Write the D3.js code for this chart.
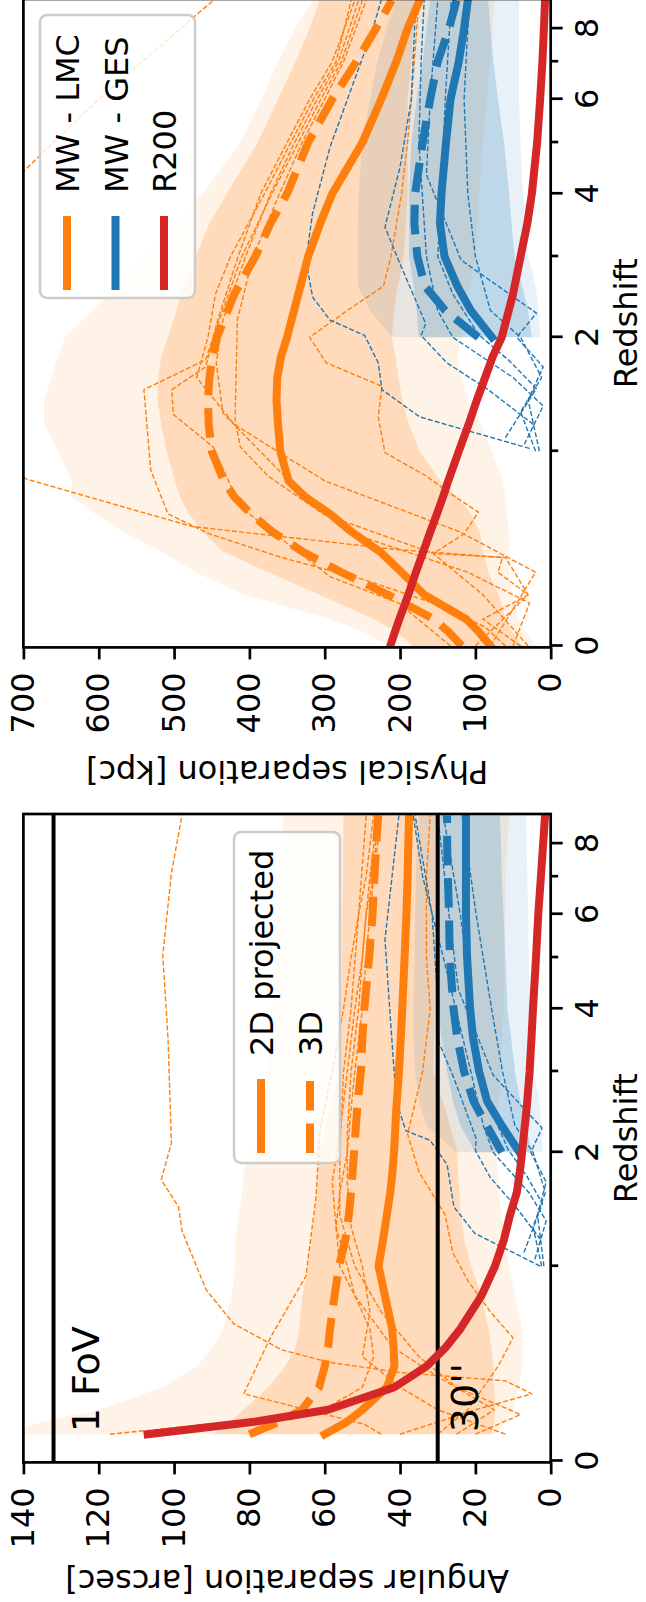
<!DOCTYPE html>
<html>
<head>
<meta charset="utf-8">
<script src="https://cdn.jsdelivr.net/npm/d3@7"></script>
<style>
  body { margin: 0; background: #fff; }
  svg { display: block; font-family: "DejaVu Sans", sans-serif; }
</style>
</head>
<body>
<svg id="chart" width="646" height="1602"></svg>
<script>
// ---- data: physical separation panel (kpc) ----
const zGrid = [0, 0.05, 0.1, 0.2, 0.3, 0.4, 0.5, 0.6, 0.7, 0.8, 1.0, 1.2, 1.4, 1.6, 1.8, 2.0, 2.5, 3, 3.5, 4, 5, 6, 7, 8, 8.95];
const physLmcOuterHi = [215, 247, 293, 407, 471, 517, 567, 604, 636, 636, 654, 672, 672, 663, 654, 645, 586, 535, 499, 462, 412, 384, 362, 339, 316];
const physLmcOuterLo = [19, 33, 42, 51, 55, 55, 55, 58, 60, 64, 78, 92, 110, 119, 124, 119, 110, 100, 97, 95, 90, 85, 80, 77, 75];
const physLmcInnerHi = [183, 204, 234, 307, 375, 435, 462, 480, 492, 499, 510, 517, 522, 521, 517, 508, 490, 471, 453, 430, 389, 362, 339, 320, 307];
const physLmcInnerLo = [37, 51, 60, 69, 83, 90, 94, 106, 124, 147, 174, 188, 197, 202, 206, 211, 205, 195, 192, 190, 190, 190, 185, 182, 180];
const physLmc2D = [80, 95, 112, 168, 198, 227, 264, 293, 326, 348, 359, 362, 364, 363, 358, 350, 335, 322, 306, 290, 250, 225, 205, 190, 174];
const physLmc3D = [118, 135, 155, 216, 278, 330, 369, 398, 420, 434, 450, 454, 455, 453, 449, 443, 420, 392, 372, 350, 322, 290, 258, 232, 211];
const physR200 = [213, 207, 201, 189, 179, 169, 160, 151, 143, 136, 122, 109, 98, 87, 77, 65, 50, 40, 31, 25, 18, 14, 11, 9, 7.5];

const zGes = [2.0, 2.3, 2.6, 3, 3.5, 4, 5, 6, 7, 8, 8.95];
const physGesOuterHi = [211, 240, 256, 256, 256, 255, 250, 240, 230, 218, 205];
const physGesOuterLo = [14, 16, 20, 30, 34, 37, 40, 42, 42, 42, 42];
const physGesInnerHi = [175, 178, 182, 188, 188, 188, 185, 178, 170, 165, 160];
const physGesInnerLo = [25, 30, 38, 48, 52, 55, 62, 70, 76, 80, 83];
const physGes2D = [78, 106, 124, 141, 147, 145, 139, 133, 122, 115, 110];
const physGes3D = [96, 140, 167, 177, 181, 180, 170, 160, 150, 135, 125];

// single pairs, [redshift, kpc]
const physLmcTracks = [
  [[0,40],[0.1,90],[0.2,30],[0.3,70],[0.37,64],[0.41,206],[0.53,476],[0.64,567],[0.81,695],[1.0,760],[1.5,800],[2,820],[3,800],[4,740],[4.44,698],[6,600],[8.95,448]],
  [[0,60],[0.07,87],[0.165,156],[0.265,247],[0.37,357],[0.49,453],[0.6,508],[0.87,531],[1.49,540],[1.77,458],[2.19,440],[3,410],[4,370],[5,335],[6,305],[7,278],[8.95,250]],
  [[0,133],[0.165,202],[0.28,293],[0.64,412],[1.03,448],[1.28,501],[1.49,503],[1.7,458],[2.19,442],[3,415],[4,385],[5,350],[6,320],[7,290],[8.95,260]],
  [[0,100],[0.2,30],[0.37,60],[0.39,156],[0.6,302],[0.83,375],[1.03,412],[1.24,419],[2.19,416],[3,395],[4,360],[5,330],[6,300],[7,275],[8.95,245]],
  [[0,30],[0.2,90],[0.39,156],[0.49,115],[0.61,96],[0.72,133],[0.83,165],[0.99,220],[1.26,229],[1.52,224],[1.74,298],[2.0,320],[2.3,270],[2.6,222],[3,212],[4,198],[5,190],[6,185],[8.95,175]],
  [[0,50],[0.165,28],[0.3,110],[0.47,247],[0.76,339],[0.99,384],[1.29,435],[1.74,444],[2.19,435],[3,405],[4,372],[5,340],[6,310],[7,282],[8.95,255]],
  [[0,80],[0.3,20],[0.5,120],[0.8,300],[1.2,420],[1.6,470],[2.0,455],[2.5,445],[3,425],[4,380],[5,345],[6,315],[7,285],[8.95,265]]
];
const physGesTracks = [
  [[1.02,28],[1.26,174],[1.49,224],[1.74,229],[2.02,247],[2.19,293],[2.46,316],[2.95,325],[3.67,316],[4.9,293],[6.2,266],[7.85,238],[8.95,225]],
  [[1.2,23],[1.49,83],[1.74,138],[2.02,172],[2.15,166],[2.92,201],[3.44,220],[4.5,200],[6,185],[8.95,179]],
  [[1.0,15],[1.4,30],[1.7,10],[2.0,45],[2.27,19],[2.95,119],[4.35,165],[6,160],[8.95,150]],
  [[1.0,20],[1.3,40],[1.6,12],[2.0,40],[2.3,80],[3,100],[4,110],[6,115],[8.95,108]],
  [[1.1,60],[1.5,19],[1.76,55],[2.03,96],[2.5,130],[3,150],[4,145],[6,140],[8.95,132]],
  [[1.05,35],[1.35,10],[1.6,50],[2.0,130],[2.3,150],[3,165],[5,175],[7,172],[8.95,168]]
];

// ---- data: angular separation panel (arcsec) ----
const zGridAng = [0.1, 0.15, 0.2, 0.3, 0.4, 0.5, 0.6, 0.8, 1.0, 1.2, 1.4, 1.6, 1.8, 2.0, 2.5, 3, 3.5, 4, 5, 6, 7, 8, 8.95];
const angLmcOuterHi = [145, 135, 120, 103, 94, 89.7, 87, 84.7, 83.8, 83.8, 82.8, 81.9, 81.5, 79, 76.5, 75, 74.5, 74.1, 73.2, 72.3, 71.9, 71.4, 71];
const angLmcOuterLo = [15, 12, 10, 8.5, 7.5, 7.5, 7.5, 9.5, 11, 12.5, 13, 13.8, 14, 14.5, 14, 13, 13, 12.5, 12.5, 12, 12, 11.5, 11];
const angLmcInnerHi = [89.7, 85.1, 81.5, 75, 70.5, 67.7, 66.8, 65.9, 64.5, 63.6, 62.7, 62.3, 61.8, 61.3, 58.5, 56, 55.8, 55.6, 55.4, 55.3, 55.2, 55.1, 55];
const angLmcInnerLo = [15.6, 15, 14.7, 15, 15.2, 15.8, 16.5, 18.4, 21.1, 23, 23.9, 24.3, 24.6, 24.8, 28, 31.2, 31, 30.8, 30.3, 30.1, 30, 29.9, 29.8];
const angLmc2D = [60, 54, 50, 43.5, 41.5, 41.7, 42.1, 44, 45.7, 44.5, 43.5, 42.6, 42, 41.6, 41, 40.3, 39.8, 39.4, 38.8, 38.3, 38, 37.8, 37.6];
const angLmc3D = [80, 72, 66, 61.5, 60, 59.1, 58.6, 57.4, 56.2, 54.5, 53.6, 53, 52.6, 52.2, 51.4, 50.4, 50, 49.5, 48.2, 47.3, 46.8, 46.3, 45.8];
const angR200 = [107, 78.7, 59.1, 41.5, 33, 27.8, 24, 18.4, 14.8, 12.4, 10.8, 9.0, 8.2, 7.6, 6.4, 5.6, 5.1, 4.7, 3.9, 3.3, 2.6, 2.0, 1.5];

const angGesOuterHi = [25, 33, 35, 36, 36.5, 36.5, 36.2, 36, 35.8, 35.5, 35];
const angGesOuterLo = [2, 2.5, 3, 4.5, 5, 5.5, 5.8, 6, 6.2, 6.4, 6.5];
const angGesInnerHi = [20, 24, 26, 27.5, 29, 30, 30.5, 30.5, 30.3, 30.2, 30];
const angGesInnerLo = [5, 6.5, 8, 9.5, 10.5, 11.5, 12, 12.5, 13, 13.2, 13.5];
const angGes2D = [8.3, 13, 16.9, 19, 20.6, 21.4, 22.2, 22.5, 22.5, 22.5, 22.5];
const angGes3D = [13, 17, 20.5, 23, 24.8, 25.8, 26.8, 27, 27.3, 27.5, 27.5];

const angLmcTracks = [
  [[0.1,40],[0.2,20],[0.27,5],[0.33,12],[0.37,40],[0.42,58.6],[0.485,71.4],[0.63,84.2],[0.84,91.5],[1.27,97.9],[1.47,98.8],[1.72,103.4],[2.1,100.7],[3.5,101.6],[5.05,103],[7.1,100.7],[8.95,97.9]],
  [[0.1,117],[0.185,62],[0.3,50],[0.45,47],[0.6,48],[0.8,52],[1.0,54],[1.3,57],[1.7,58],[2.2,56],[3,54],[4,52],[5,50],[6,49],[7,47],[8.95,45]],
  [[0.1,45],[0.14,49.5],[0.27,81.5],[0.56,74.2],[0.93,65],[1.56,62.3],[2.24,61.3],[3,58],[4,55],[5,53],[6,51],[7,49],[8.95,47]],
  [[0.1,25],[0.2,15],[0.35,30],[0.5,42],[0.8,52],[1.0,56],[1.3,57],[1.6,56],[2.0,54],[2.5,53],[3,52],[4,50],[5,49],[6,48],[7,47],[8.95,46]],
  [[0.1,30],[0.2,22],[0.4,14],[0.55,10],[0.7,16],[0.9,22],[1.1,26],[1.4,28],[1.8,35],[2.2,38],[3,34],[4,32],[5,33],[7,33],[8.95,32]],
  [[0.1,12],[0.2,30],[0.3,40],[0.45,50],[0.7,48],[1.0,50],[1.3,53],[1.7,54],[2.2,54],[3,53],[4,51],[5,50],[6,49],[7,48],[8.95,46]],
  [[0.1,20],[0.18,8],[0.3,25],[0.45,35],[0.7,45],[1.0,52],[1.4,56],[2,56],[3,55],[4,53],[6,51],[8.95,49]]
];
const angGesTracks = [
  [[1.0,2.8],[1.25,20.2],[1.47,25.7],[1.87,27.5],[2.13,32],[2.24,38.5],[2.6,41],[3.5,42.2],[5.4,44],[8.95,40.3]],
  [[1.2,2.7],[1.49,9.7],[1.74,16],[2.02,20],[2.15,19.8],[2.92,25.8],[3.44,29.7],[4.5,30.3],[6,31.5],[8.95,36]],
  [[1.0,1.8],[1.4,3.5],[1.7,1.2],[2.0,5.3],[2.27,2.3],[2.95,15.3],[4.35,24.5],[6,27],[8.95,30]],
  [[1.0,2.4],[1.3,4.7],[1.6,1.4],[2.0,4.7],[2.3,9.5],[3,12.8],[4,15.7],[6,19.8],[8.95,23.5]],
  [[1.1,7.1],[1.5,2.2],[1.76,6.4],[2.03,11.3],[2.5,16],[3,19.2],[4,20.7],[6,24],[8.95,28.5]],
  [[1.05,4.2],[1.35,1.2],[1.6,5.8],[2.0,15.3],[2.3,17.9],[3,21.2],[5,28.5],[7,34],[8.95,36.5]]
];

const redshiftTicks = [0, 2, 4, 6, 8];
const redshiftMinor = [1, 3, 5, 7];
const fovLines = [132, 30];

const C0 = '#1f77b4', C1 = '#ff7f0e', C3 = '#d62728';

// ---- layout (figure drawn landscape, then turned a quarter turn) ----
const W = 1602;
const plotTop = 23.4, plotBottom = 550.7, plotW = 648.4;
const svg = d3.select('#chart');
svg.append('rect').attr('width', 646).attr('height', 1602).attr('fill', '#fff');
const fig = svg.append('g').attr('transform', `translate(0,${W}) rotate(-90)`);

function drawPanel(p) {
  const x = d3.scaleLog().domain([0.995, 10]).range([p.x0, p.x0 + plotW]);
  const y = d3.scaleLinear().domain([0, p.yMax]).range([plotBottom, plotTop]);
  const g = fig.append('g');

  g.append('clipPath').attr('id', 'clip-' + p.id)
    .append('rect').attr('x', p.x0).attr('y', plotTop)
    .attr('width', plotW).attr('height', plotBottom - plotTop);
  const plot = g.append('g').attr('clip-path', `url(#clip-${p.id})`);

  const area = d3.area().x(d => x(1 + d[0])).y0(d => y(d[1])).y1(d => y(d[2]));
  const line = d3.line().x(d => x(1 + d[0])).y(d => y(d[1]));

  function band(zs, lo, hi, color, op) {
    plot.append('path')
      .datum(zs.map((z, i) => [z, lo[i], hi[i]]))
      .attr('d', area).attr('fill', color).attr('fill-opacity', op);
  }
  function curve(pts, color, w, dash) {
    plot.append('path').datum(pts).attr('d', line)
      .attr('fill', 'none').attr('stroke', color).attr('stroke-width', w)
      .attr('stroke-linejoin', 'round')
      .attr('stroke-linecap', dash ? 'butt' : 'square')
      .attr('stroke-dasharray', dash || null);
  }
  const zip = (zs, vs) => zs.map((z, i) => [z, vs[i]]);

  // shaded ranges
  band(p.zL, p.lmcOuterLo, p.lmcOuterHi, C1, 0.1);
  band(p.zL, p.lmcInnerLo, p.lmcInnerHi, C1, 0.2);
  band(zGes, p.gesOuterLo, p.gesOuterHi, C0, 0.1);
  band(zGes, p.gesInnerLo, p.gesInnerHi, C0, 0.2);

  // individual pairs
  p.lmcTracks.forEach(t => curve(t, C1, 1.4, '5,2.2'));
  p.gesTracks.forEach(t => curve(t, C0, 1.4, '5,2.2'));

  // medians
  curve(zip(p.zL, p.lmc2D), C1, 8);
  curve(zip(p.zL, p.lmc3D), C1, 8, '29.6,12.8');
  curve(zip(zGes, p.ges2D), C0, 8);
  curve(zip(zGes, p.ges3D), C0, 8, '29.6,12.8');

  if (p.fov) {
    fovLines.forEach(v => {
      plot.append('line').attr('x1', p.x0).attr('x2', p.x0 + plotW)
        .attr('y1', y(v)).attr('y2', y(v)).attr('stroke', '#000').attr('stroke-width', 4);
    });
    g.append('text').attr('x', x(1.108)).attr('y', y(120)).attr('font-size', 38).text('1 FoV');
    g.append('text').attr('x', x(1.108)).attr('y', y(19.3)).attr('font-size', 38).text("30''");
  }

  curve(zip(p.zL, p.r200), C3, 8);

  // frame
  g.append('rect').attr('x', p.x0).attr('y', plotTop).attr('width', plotW)
    .attr('height', plotBottom - plotTop).attr('fill', 'none')
    .attr('stroke', '#000').attr('stroke-width', 2.7);

  // axes
  const xAxis = d3.axisBottom(x).tickValues(redshiftTicks.map(z => z + 1))
    .tickFormat(d => Math.round(d - 1)).tickSize(12).tickPadding(13).tickSizeOuter(0);
  const xMinor = d3.axisBottom(x).tickValues(redshiftMinor.map(z => z + 1))
    .tickFormat('').tickSize(7.5).tickSizeOuter(0);
  const yAxis = d3.axisLeft(y).tickValues(d3.range(0, p.yMax + 1, p.step))
    .tickSize(12).tickPadding(13).tickSizeOuter(0);

  [[xAxis, `translate(0,${plotBottom})`], [xMinor, `translate(0,${plotBottom})`], [yAxis, `translate(${p.x0},0)`]]
    .forEach(([ax, tr]) => {
      g.append('g').attr('transform', tr).call(ax)
        .attr('font-size', 32).attr('font-family', '"DejaVu Sans", sans-serif')
        .call(s => s.select('.domain').remove())
        .call(s => s.selectAll('.tick line').attr('stroke-width', 2.7))
        .call(s => s.selectAll('.tick text').attr('fill', '#000'));
    });

  g.append('text').attr('x', p.x0 + plotW / 2).attr('y', 637)
    .attr('text-anchor', 'middle').attr('font-size', 32).text('Redshift');
  const lx = p.x0 - p.labelGap, ly = (plotTop + plotBottom) / 2;
  g.append('text').attr('x', lx).attr('y', ly).attr('transform', `rotate(-90,${lx},${ly})`)
    .attr('text-anchor', 'middle').attr('font-size', 32).text(p.label);

  // legend
  const L = p.legend;
  g.append('rect').attr('x', L.x).attr('y', L.y).attr('width', L.w).attr('height', L.h)
    .attr('rx', 7).attr('fill', '#fff').attr('fill-opacity', 0.8)
    .attr('stroke', '#cccccc').attr('stroke-width', 2.5);
  L.items.forEach((it, i) => {
    const yy = L.y + L.first + i * L.gap;
    g.append('line').attr('x1', L.x + L.pad).attr('x2', L.x + L.pad + 74)
      .attr('y1', yy).attr('y2', yy).attr('stroke', it.color).attr('stroke-width', 8)
      .attr('stroke-dasharray', it.dash || null);
    g.append('text').attr('x', L.x + L.pad + 97).attr('y', yy + 12)
      .attr('font-size', 32).text(it.label);
  });
}

drawPanel({
  id: 'ang', x0: 139.6, yMax: 140, step: 20, label: 'Angular separation [arcsec]', labelGap: 108, fov: true,
  zL: zGridAng, lmcOuterHi: angLmcOuterHi, lmcOuterLo: angLmcOuterLo,
  lmcInnerHi: angLmcInnerHi, lmcInnerLo: angLmcInnerLo,
  gesOuterHi: angGesOuterHi, gesOuterLo: angGesOuterLo,
  gesInnerHi: angGesInnerHi, gesInnerLo: angGesInnerLo,
  lmc2D: angLmc2D, lmc3D: angLmc3D, ges2D: angGes2D, ges3D: angGes3D, r200: angR200,
  lmcTracks: angLmcTracks, gesTracks: angGesTracks,
  legend: { x: 439, y: 234, w: 331, h: 106, pad: 10, first: 27, gap: 49,
    items: [{ label: '2D projected', color: C1 }, { label: '3D', color: C1, dash: '29.6,12.8' }] }
});

drawPanel({
  id: 'phys', x0: 954.6, yMax: 700, step: 100, label: 'Physical separation [kpc]', labelGap: 114, fov: false,
  zL: zGrid, lmcOuterHi: physLmcOuterHi, lmcOuterLo: physLmcOuterLo,
  lmcInnerHi: physLmcInnerHi, lmcInnerLo: physLmcInnerLo,
  gesOuterHi: physGesOuterHi, gesOuterLo: physGesOuterLo,
  gesInnerHi: physGesInnerHi, gesInnerLo: physGesInnerLo,
  lmc2D: physLmc2D, lmc3D: physLmc3D, ges2D: physGes2D, ges3D: physGes3D, r200: physR200,
  lmcTracks: physLmcTracks, gesTracks: physGesTracks,
  legend: { x: 1304, y: 40, w: 283, h: 155, pad: 8, first: 27, gap: 48.5,
    items: [{ label: 'MW - LMC', color: C1 }, { label: 'MW - GES', color: C0 }, { label: 'R200', color: C3 }] }
});
</script>
</body>
</html>
